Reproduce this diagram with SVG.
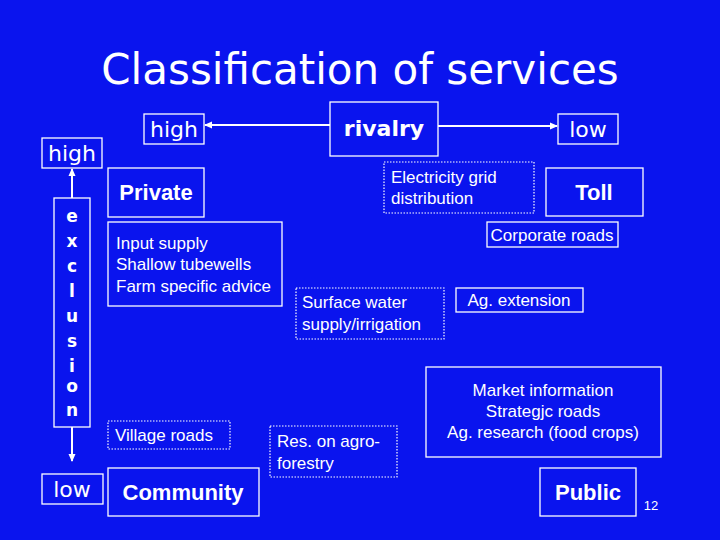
<svg xmlns="http://www.w3.org/2000/svg" width="720" height="540" viewBox="0 0 720 540">
<defs>
<marker id="ah" markerWidth="8" markerHeight="8" refX="7" refY="4" orient="auto" markerUnits="userSpaceOnUse"><path d="M0,0.5 L8,4 L0,7.5 z" fill="#fff"/></marker>
<style>
.b{fill:none;stroke:#fff;stroke-width:1.3}
.d{fill:none;stroke:#fff;stroke-width:1.2;stroke-dasharray:1.5 1.5}
.t{font-family:"Liberation Sans",Arial,sans-serif;font-size:17px;fill:#fff}
.h{font-family:"Liberation Sans",Arial,sans-serif;font-size:22px;font-weight:bold;fill:#fff}
.c{font-family:"DejaVu Sans",sans-serif;font-size:22px;fill:#fff}
.l{stroke:#fff;stroke-width:2;fill:none;marker-end:url(#ah)}
</style>
</defs>
<rect width="720" height="540" fill="#0a14ee"/>
<text x="360" y="84" text-anchor="middle" font-family="DejaVu Sans,sans-serif" font-size="42" fill="#fff">Classification of services</text>
<g id="connectors">
<line class="l" x1="330" y1="125" x2="205" y2="125"/>
<line class="l" x1="438" y1="126" x2="557" y2="126"/>
<line class="l" x1="72" y1="198" x2="72" y2="169"/>
<line class="l" x1="72" y1="427" x2="72" y2="461"/>
</g>
<g id="rivalry"><rect class="b" x="330" y="102" width="108" height="54"/><text class="c" x="384" y="136" text-anchor="middle" font-weight="bold">rivalry</text></g>
<g id="high-top"><rect class="b" x="144" y="114" width="60" height="30"/><text class="c" x="174" y="137" text-anchor="middle">high</text></g>
<g id="low-top"><rect class="b" x="558" y="114" width="60" height="30"/><text class="c" x="588" y="137" text-anchor="middle">low</text></g>
<g id="high-left"><rect class="b" x="42" y="138" width="60" height="30"/><text class="c" x="72" y="161" text-anchor="middle">high</text></g>
<g id="exclusion"><rect class="b" x="54" y="198" width="36" height="229"/>
<text font-family="DejaVu Sans,sans-serif" font-size="17" font-weight="bold" fill="#fff" text-anchor="middle"><tspan x="72" y="222">e</tspan><tspan x="72" y="247">x</tspan><tspan x="72" y="272">c</tspan><tspan x="72" y="297">l</tspan><tspan x="72" y="322">u</tspan><tspan x="72" y="347">s</tspan><tspan x="72" y="372">i</tspan><tspan x="72" y="392">o</tspan><tspan x="72" y="416">n</tspan></text></g>
<g id="low-left"><rect class="b" x="42" y="474" width="61" height="30"/><text class="c" x="72" y="497" text-anchor="middle">low</text></g>
<g id="private"><rect class="b" x="108" y="168" width="96" height="49"/><text class="h" x="156" y="200" text-anchor="middle">Private</text></g>
<g id="input"><rect class="b" x="108" y="222" width="174" height="84"/><text class="t"><tspan x="116" y="249">Input supply</tspan><tspan x="116" y="270">Shallow tubewells</tspan><tspan x="116" y="292">Farm specific advice</tspan></text></g>
<g id="electricity"><rect class="d" x="384" y="162" width="150" height="51"/><text class="t"><tspan x="391" y="183">Electricity grid</tspan><tspan x="391" y="204">distribution</tspan></text></g>
<g id="toll"><rect class="b" x="546" y="168" width="97" height="48"/><text class="h" x="594" y="200" text-anchor="middle">Toll</text></g>
<g id="corporate"><rect class="b" x="487" y="222" width="131" height="25"/><text class="t" x="552" y="241" text-anchor="middle">Corporate roads</text></g>
<g id="surface"><rect class="d" x="296" y="288" width="148" height="51"/><text class="t"><tspan x="302" y="308">Surface water</tspan><tspan x="302" y="330">supply/irrigation</tspan></text></g>
<g id="agext"><rect class="b" x="456" y="288" width="127" height="24"/><text class="t" x="519" y="306" text-anchor="middle">Ag. extension</text></g>
<g id="market"><rect class="b" x="426" y="367" width="235" height="90"/><text class="t" text-anchor="middle"><tspan x="543" y="396">Market information</tspan><tspan x="543" y="417">Strategjc roads</tspan><tspan x="543" y="438">Ag. research (food crops)</tspan></text></g>
<g id="village"><rect class="d" x="108" y="421" width="122" height="28"/><text class="t" x="115" y="441">Village roads</text></g>
<g id="res"><rect class="d" x="270" y="426" width="127" height="51"/><text class="t"><tspan x="277" y="447">Res. on agro-</tspan><tspan x="277" y="469">forestry</tspan></text></g>
<g id="community"><rect class="b" x="108" y="468" width="151" height="48"/><text class="h" x="183" y="500" text-anchor="middle">Community</text></g>
<g id="public"><rect class="b" x="540" y="468" width="96" height="48"/><text class="h" x="588" y="500" text-anchor="middle">Public</text></g>
<text x="651" y="510" text-anchor="middle" font-family="Liberation Sans,sans-serif" font-size="13" fill="#fff">12</text>
</svg>
